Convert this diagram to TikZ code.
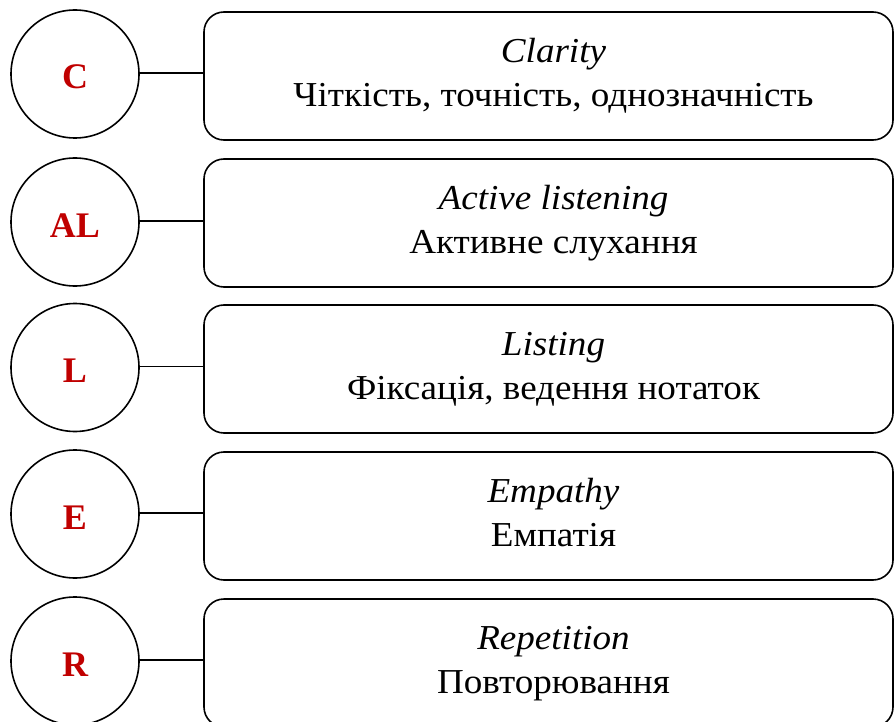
\documentclass[tikz,border=0pt]{standalone}
\usepackage{fontspec}
\setmainfont{Liberation Serif}
\newfontfamily\cardfont[FakeStretch=1.06]{Liberation Serif}
\definecolor{letterred}{HTML}{C00000}
\tikzset{
  letter/.style={circle, draw=black, line width=1.6pt, minimum size=128pt, inner sep=0pt,
    text height=30pt, text depth=0pt,
    font=\fontsize{36}{40}\selectfont\bfseries, text=letterred},
  card/.style={draw=black, line width=1.6pt, rounded corners=20pt, minimum width=689pt,
    minimum height=128pt, inner sep=0pt},
  cardtext/.style={anchor=base, inner sep=0pt, font=\cardfont\fontsize{35}{40}\selectfont},
  link/.style={draw=black, line width=1.6pt}
}
\begin{document}
\begin{tikzpicture}[x=1pt,y=-1pt]
\useasboundingbox (0,0) rectangle (894,722);
\foreach \n/\cy/\top/\lab/\en/\ua in {
  1/74/12/C/Clarity/{Чіткість, точність, однозначність},
  2/222/159/AL/Active listening/{Активне слухання},
  3/367.5/305/L/Listing/{Фіксація, ведення нотаток},
  4/514/452/E/Empathy/{Емпатія},
  5/661/599/R/Repetition/{Повторювання}}
{
  \node[letter] (c\n) at (75,\cy) {\lab};
  \node[card] (b\n) at (548.5,\top+64) {};
  \node[cardtext] (t\n) at ([xshift=5pt,yshift=-51.5pt]b\n.north) {\itshape\en};
  \node[cardtext] (u\n) at ([xshift=5pt,yshift=-95pt]b\n.north) {\ua};
  \draw[link] (c\n.1.8) -- (c\n.1.8 -| b\n.west);
}
\end{tikzpicture}
\end{document}
